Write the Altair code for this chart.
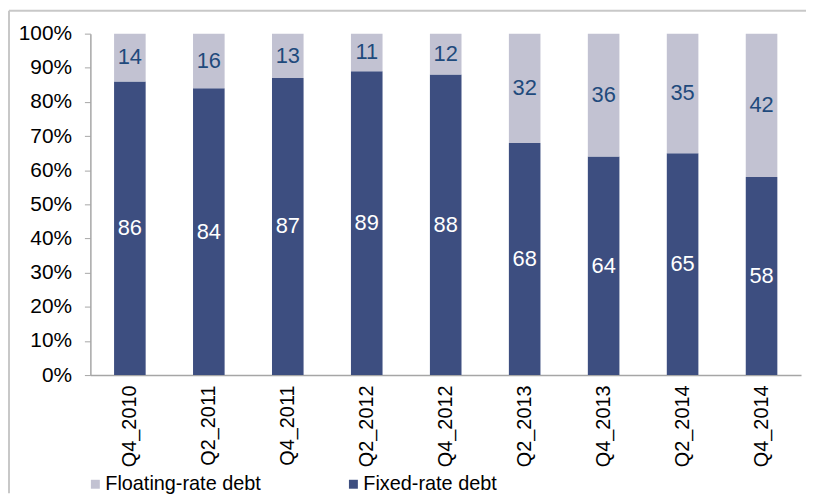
import altair as alt
import pandas as pd

categories = ["Q4_2010", "Q2_2011", "Q4_2011", "Q2_2012", "Q4_2012",
              "Q2_2013", "Q4_2013", "Q2_2014", "Q4_2014"]
fixed_rate = [86, 84, 87, 89, 88, 68, 64, 65, 58]
floating_rate = [14, 16, 13, 11, 12, 32, 36, 35, 42]
series_names = ["Floating-rate debt", "Fixed-rate debt"]
series_colors = ["#C2C2D2", "#3D4E80"]
label_colors = ["#1F4A7C", "#FFFFFF"]
y_ticks = [0, 10, 20, 30, 40, 50, 60, 70, 80, 90, 100]

rows = []
for i, c in enumerate(categories):
    rows.append({"cat": c, "series": "Fixed-rate debt", "value": fixed_rate[i], "ord": 0})
    rows.append({"cat": c, "series": "Floating-rate debt", "value": floating_rate[i], "ord": 1})
df = pd.DataFrame(rows)

FONT = "Liberation Sans"
W, H = 716, 344
PAD_L, PAD_T, PAD_R, PAD_B = 83, 24, 5, 119

base = alt.Chart(df)

x_scale = alt.Scale(domain=categories, paddingInner=0.6, paddingOuter=0.3)
y_scale = alt.Scale(domain=[0, 100], nice=False)

x_axis = alt.Axis(labelAngle=-90, labelAlign="right", labelBaseline="middle",
                  labelFont=FONT, labelFontSize=20, labelColor="#000000",
                  labelPadding=10, ticks=False, domainColor="#A6A6A6",
                  domainWidth=1.5, labelOverlap=False)
y_axis = alt.Axis(values=y_ticks, labelExpr="datum.value + '%'",
                  labelFont=FONT, labelFontSize=21, labelColor="#000000",
                  labelPadding=13, tickSize=6, tickColor="#A6A6A6",
                  domainColor="#A6A6A6", domainWidth=1.5, grid=False,
                  labelOverlap=False, labelFlush=False)

bars = base.mark_bar().encode(
    x=alt.X("cat:N", sort=categories, title=None, scale=x_scale, axis=x_axis),
    y=alt.Y("value:Q", stack="zero", title=None, scale=y_scale, axis=y_axis),
    color=alt.Color("series:N", scale=alt.Scale(domain=series_names, range=series_colors),
                    legend=alt.Legend(title=None, orient="none", direction="horizontal",
                                      legendX=-5, legendY=444, symbolType="square",
                                      symbolSize=81, symbolStrokeWidth=0,
                                      labelFont=FONT, labelFontSize=20,
                                      labelColor="#000000", labelOffset=0,
                                      columnPadding=83)),
    order=alt.Order("ord:Q"),
)

labels = base.transform_stack(
    stack="value", groupby=["cat"], as_=["y0", "y1"],
    sort=[alt.SortField("ord", order="ascending")]
).transform_calculate(
    mid="(datum.y0 + datum.y1) / 2"
).mark_text(font=FONT, fontSize=22, baseline="middle", align="center").encode(
    x=alt.X("cat:N", sort=categories, title=None, scale=x_scale, axis=x_axis),
    y=alt.Y("mid:Q", title=None, scale=y_scale, axis=y_axis),
    text=alt.Text("value:Q"),
    color=alt.Color("series:N", scale=alt.Scale(domain=series_names, range=label_colors),
                    legend=None),
)

frame_top = alt.Chart(pd.DataFrame({"k": [0]})).mark_rule(color="#C8C8C8", strokeWidth=2).encode(
    x=alt.value(-PAD_L + 1), x2=alt.value(W + PAD_R), y=alt.value(-PAD_T + 1))
frame_left = alt.Chart(pd.DataFrame({"k": [0]})).mark_rule(color="#C8C8C8", strokeWidth=2).encode(
    x=alt.value(-PAD_L + 1), y=alt.value(-PAD_T + 1), y2=alt.value(H + PAD_B))

chart = alt.layer(bars, labels, frame_top, frame_left).resolve_scale(color="independent").properties(
    width=W, height=H,
    autosize=alt.AutoSizeParams(type="none"),
    padding={"left": PAD_L, "top": PAD_T, "right": PAD_R, "bottom": PAD_B},
    background="#FFFFFF",
).configure_view(stroke=None)

chart.save("out.html", embed_options={"renderer": "svg", "actions": False})
